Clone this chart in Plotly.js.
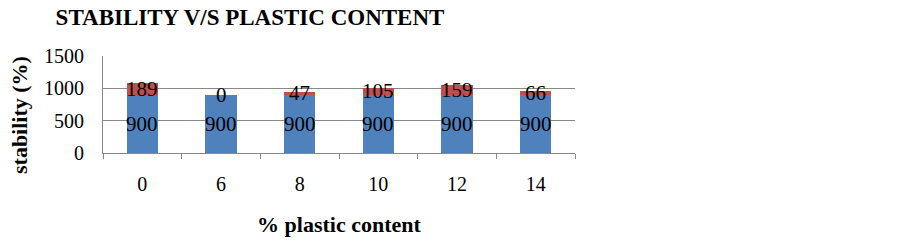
<!DOCTYPE html>
<html><head><meta charset="utf-8">
<script src="https://cdn.plot.ly/plotly-3.0.1.min.js"></script>
<style>body{margin:0;background:#fff}#c{width:899px;height:242px}</style>
</head><body><div id="c"></div>
<script>
const categories = ['0','6','8','10','12','14'];
const baseValues = [900,900,900,900,900,900];
const extraValues = [189,0,47,105,159,66];

const F = 'Liberation Serif, Times New Roman, serif';
const traces = [
  {type:'bar', x:categories, y:baseValues, marker:{color:'#4F81BD'}, hoverinfo:'none'},
  {type:'bar', x:categories, y:extraValues, marker:{color:'#C0504D'}, hoverinfo:'none'}
];
const annotations = [];
categories.forEach((c,i)=>{
  annotations.push({x:i, y:baseValues[i]/2, text:String(baseValues[i]), showarrow:false, font:{family:F,size:21,color:'#000'}, yanchor:'middle'});
  annotations.push({x:i, y:baseValues[i]+extraValues[i]/2, text:String(extraValues[i]), showarrow:false, font:{family:F,size:21,color:'#000'}, yanchor:'middle'});
});
// y-axis title placed as a rotated annotation
annotations.push({xref:'paper', yref:'paper', x:(19-103)/472, y:(153-115)/97, xanchor:'center', yanchor:'middle',
  text:'<b>stability (%)</b>', textangle:-90, showarrow:false, font:{family:F,size:22,color:'#000'}});
const layout = {
  width:899, height:242, barmode:'stack', bargap:0.6, showlegend:false,
  margin:{l:103, r:324, t:56, b:89},
  paper_bgcolor:'#fff', plot_bgcolor:'#fff',
  font:{family:F, color:'#000'},
  title:{text:'<b>STABILITY V/S PLASTIC CONTENT</b>', font:{family:F,size:23,color:'#000'}, xref:'container', x:250/899, xanchor:'center', yref:'container', y:1-17/242, yanchor:'middle'},
  xaxis:{type:'category', range:[-0.5,5.5], autorange:false, showline:true, linecolor:'#888', linewidth:1, ticks:'outside', tickson:'boundaries', ticklen:5, tickcolor:'#888',
    tickfont:{family:F,size:20,color:'#000'}, ticklabelstandoff:13, showgrid:false,
    title:{text:'<b>% plastic content</b>', font:{family:F,size:22,color:'#000'}, standoff:22}},
  yaxis:{range:[0,1500], autorange:false, dtick:500, showline:true, linecolor:'#888', linewidth:1, gridcolor:'#888', gridwidth:1, ticks:'', zeroline:false,
    tickfont:{family:F,size:20,color:'#000'}, ticklabelstandoff:14},
  annotations:annotations
};
Plotly.newPlot('c', traces, layout, {displayModeBar:false, staticPlot:true});
</script></body></html>
